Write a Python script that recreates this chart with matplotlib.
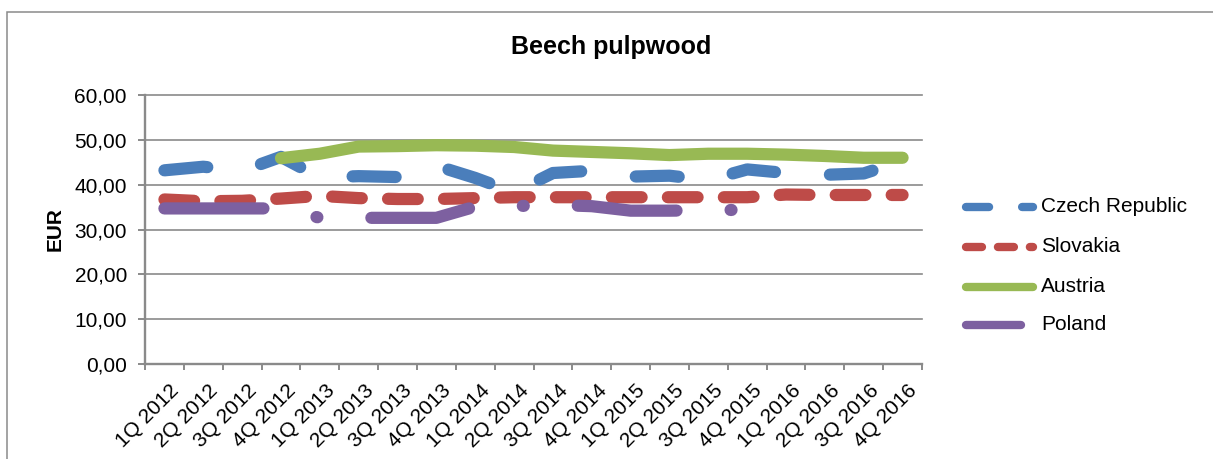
import matplotlib
matplotlib.use("Agg")
import matplotlib.pyplot as plt
import numpy as np
from matplotlib.lines import Line2D
from matplotlib.patches import Rectangle
from matplotlib.transforms import ScaledTranslation

plt.rcParams['font.family'] = ['Liberation Sans', 'DejaVu Sans']
plt.rcParams['lines.scale_dashes'] = False

# ---- data -------------------------------------------------------------
quarters = ["1Q 2012", "2Q 2012", "3Q 2012", "4Q 2012",
            "1Q 2013", "2Q 2013", "3Q 2013", "4Q 2013",
            "1Q 2014", "2Q 2014", "3Q 2014", "4Q 2014",
            "1Q 2015", "2Q 2015", "3Q 2015", "4Q 2015",
            "1Q 2016", "2Q 2016", "3Q 2016", "4Q 2016"]

czech = [43.2, 44.0, 43.1, 46.2, 41.6, 41.9, 41.7, 44.2, 41.5, 38.3,
         42.6, 43.1, 41.8, 42.0, 41.0, 43.4, 42.6, 42.2, 42.5, 45.3]
slovakia = [36.7, 36.3, 36.4, 36.9, 37.5, 37.0, 36.8, 36.8, 37.0, 37.2,
            37.2, 37.2, 37.2, 37.2, 37.2, 37.2, 37.8, 37.7, 37.7, 37.7]
austria = [np.nan, np.nan, np.nan, 45.9, 46.9, 48.5, 48.6, 48.8, 48.7, 48.4,
           47.6, 47.3, 47.0, 46.6, 46.9, 46.9, 46.7, 46.4, 46.0, 46.0]
poland = [34.7, 34.7, 34.7, 34.7, 32.6, 32.6, 32.6, 32.6, 35.1, 35.2,
          35.5, 35.2, 34.2, 34.2, 34.3, 34.4, np.nan, np.nan, np.nan, np.nan]

series_names = ["Czech Republic", "Slovakia", "Austria", "Poland"]
yticks = [0, 10, 20, 30, 40, 50, 60]

# ---- styling ----------------------------------------------------------
W, H, DPI = 1213, 459, 100
GRAY = "#8A8A8A"
colors = ["#4A7EBB", "#BE4B48", "#98B954", "#7D60A0"]
# dash patterns in points (on, off, ...)
line_dashes = [(0, (31.0, 39.6)), (0, (21.4, 18.9)), None,
               (0, (71.3, 38.9, 0.7, 38.9))]
legend_dashes = [(0, (16.6, 23.8)), (0, (11.5, 11.5)), None, None]
LW = 8.8
LEG_LW = 6.0

fig = plt.figure(figsize=(W / DPI, H / DPI), dpi=DPI)

# chart frame
fig.add_artist(Rectangle((7 / W, -0.05), 1.1, 1 - 12 / H + 0.05,
                         transform=fig.transFigure, fill=False,
                         edgecolor=GRAY, linewidth=1.1))

ax = fig.add_axes([145 / W, 1 - 364 / H, (922 - 145) / W, (364 - 95) / H])

x = np.arange(len(quarters))
data = [czech, slovakia, austria, poland]
for name, vals, col, dsh in zip(series_names, data, colors, line_dashes):
    ln, = ax.plot(x, vals, color=col, lw=LW, label=name, zorder=3,
                  solid_capstyle="round", dash_capstyle="round",
                  solid_joinstyle="round", dash_joinstyle="round",
                  clip_on=False)
    if dsh is not None:
        ln.set_linestyle(dsh)

ax.set_xlim(-0.5, len(quarters) - 0.5)
ax.set_ylim(0, 60)
ax.set_yticks(yticks)
ax.set_yticklabels([f"{v:.2f}".replace(".", ",") for v in yticks])
ax.grid(axis="y", color=GRAY, lw=1.2, zorder=0)
for gl in ax.get_ygridlines():
    gl.set_clip_on(False)

# boundary ticks between quarters, labels centred on each quarter
ax.set_xticks(np.arange(-0.5, len(quarters), 1.0))
ax.set_xticklabels([])
ax.set_xticks(x, minor=True)
ax.set_xticklabels(quarters, minor=True, rotation=45, ha="right",
                   va="top", rotation_mode="anchor", fontsize=15)
ax.tick_params(axis="x", which="major", length=4, width=1.4, color=GRAY,
               direction="out")
ax.tick_params(axis="x", which="minor", length=0, pad=12)
for lbl in ax.get_xticklabels(minor=True):
    lbl.set_transform(lbl.get_transform() +
                      ScaledTranslation(5 / DPI, 0, fig.dpi_scale_trans))
ax.tick_params(axis="y", length=5, width=1.4, color=GRAY, pad=8,
               labelsize=15)

for side in ["top", "right"]:
    ax.spines[side].set_visible(False)
for side in ["left", "bottom"]:
    ax.spines[side].set_color(GRAY)
    ax.spines[side].set_linewidth(1.7)
ax.set_axisbelow(True)

ax.set_ylabel("EUR", fontsize=15, fontweight="bold", labelpad=7)
fig.text(611.5 / W, 1 - 47 / H, "Beech pulpwood", fontsize=18,
         fontweight="bold", ha="center", va="center")

# legend
leg_y = [206.7, 246.7, 286.7, 325.0]
leg_end = [1033, 1033, 1033, 1021]
for name, col, dsh, yy, xe in zip(series_names, colors, legend_dashes,
                                  leg_y, leg_end):
    hl = Line2D([966 / W, xe / W], [1 - yy / H, 1 - yy / H],
                transform=fig.transFigure, color=col, lw=LEG_LW,
                solid_capstyle="round", dash_capstyle="round")
    if dsh is not None:
        hl.set_linestyle(dsh)
    fig.add_artist(hl)
    fig.text(1041 / W, 1 - yy / H, name, fontsize=15, ha="left",
             va="center")

fig.savefig("out.png", dpi=DPI)
